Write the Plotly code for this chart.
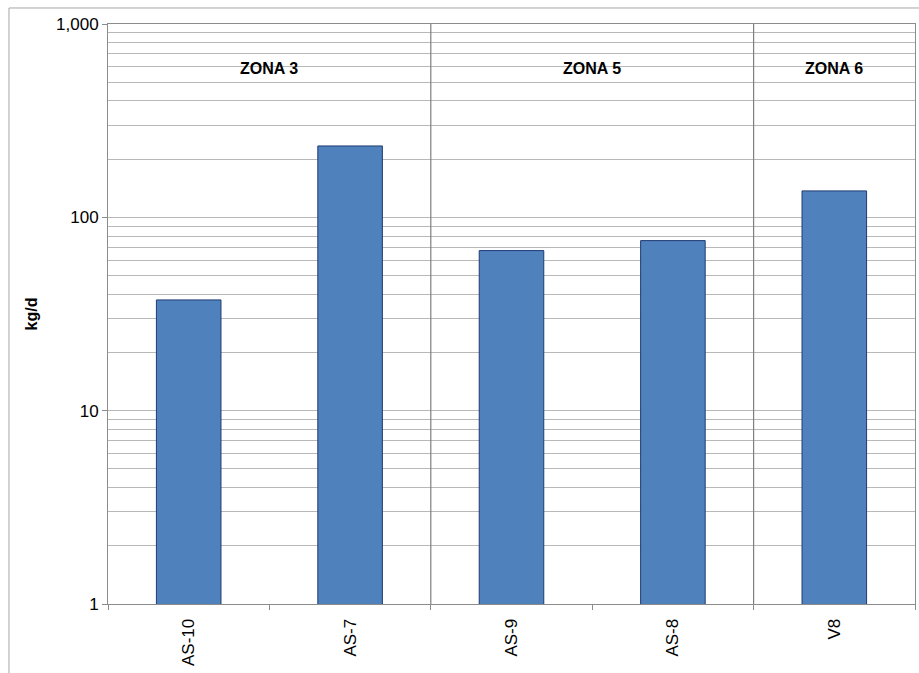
import plotly.graph_objects as go

# Sampling points, their zone and daily load (kg/d)
stations = ["AS-10", "AS-7", "AS-9", "AS-8", "V8"]
station_zone = ["ZONA 3", "ZONA 3", "ZONA 5", "ZONA 5", "ZONA 6"]
load_kg_d = [37.4, 234, 67.3, 75.8, 137]

zones = ["ZONA 3", "ZONA 5", "ZONA 6"]
y_tickvals = [1, 10, 100, 1000]
y_ticktext = ["1", "10", "100", "1,000"]

FONT = "Liberation Sans, Arial, sans-serif"
GRID = "#b8b8b8"
AXIS = "#8c8c8c"

fig = go.Figure()
fig.add_trace(go.Bar(
    x=stations,
    y=load_kg_d,
    width=0.4,
    marker=dict(color="#4F81BD", line=dict(color="#1F3B73", width=1)),
    showlegend=False,
))

# Zone separators between groups of stations, and zone titles over each group
shapes = []
annotations = []
for z in zones:
    idx = [i for i, s in enumerate(station_zone) if s == z]
    annotations.append(dict(
        x=(idx[0] + idx[-1]) / 2, xref="x",
        y=0.924, yref="paper",
        text=f"<b>{z}</b>", showarrow=False,
        font=dict(family=FONT, size=16, color="#000000"),
        xanchor="center", yanchor="middle",
    ))
    if idx[0] > 0:
        shapes.append(dict(
            type="line", xref="x", yref="paper",
            x0=idx[0] - 0.5, x1=idx[0] - 0.5, y0=0, y1=1,
            line=dict(color="#7f7f7f", width=1.2),
        ))

# Outer chart frame
shapes.append(dict(
    type="rect", xref="paper", yref="paper",
    x0=-0.1227, x1=1.05, y0=-0.3, y1=1.0276,
    line=dict(color="#a6a6a6", width=1), layer="below",
))

fig.update_layout(
    width=919, height=673,
    margin=dict(l=108, r=4, t=24, b=69),
    paper_bgcolor="white", plot_bgcolor="white",
    font=dict(family=FONT, size=17, color="#000000"),
    shapes=shapes,
    annotations=annotations,
    bargap=0.6,
)

fig.update_xaxes(
    type="category",
    showline=True, linecolor=AXIS, linewidth=1, mirror=True,
    showgrid=False,
    ticks="outside", tickson="boundaries", ticklen=5, tickcolor=AXIS,
    tickangle=-90, ticklabelstandoff=7,
    tickfont=dict(family=FONT, size=17, color="#000000"),
)

fig.update_yaxes(
    type="log", range=[0, 3],
    tickvals=y_tickvals, ticktext=y_ticktext,
    showline=True, linecolor=AXIS, linewidth=1, mirror=True,
    showgrid=True, gridcolor=GRID, gridwidth=1,
    ticks="outside", ticklen=5, tickcolor=AXIS,
    minor=dict(dtick="D1", showgrid=True, gridcolor=GRID, gridwidth=1, ticks=""),
    zeroline=False,
    tickfont=dict(family=FONT, size=17, color="#000000"),
    title=dict(text="<b>kg/d</b>", font=dict(family=FONT, size=16, color="#000000"), standoff=14),
)

fig.write_html("out.html")
